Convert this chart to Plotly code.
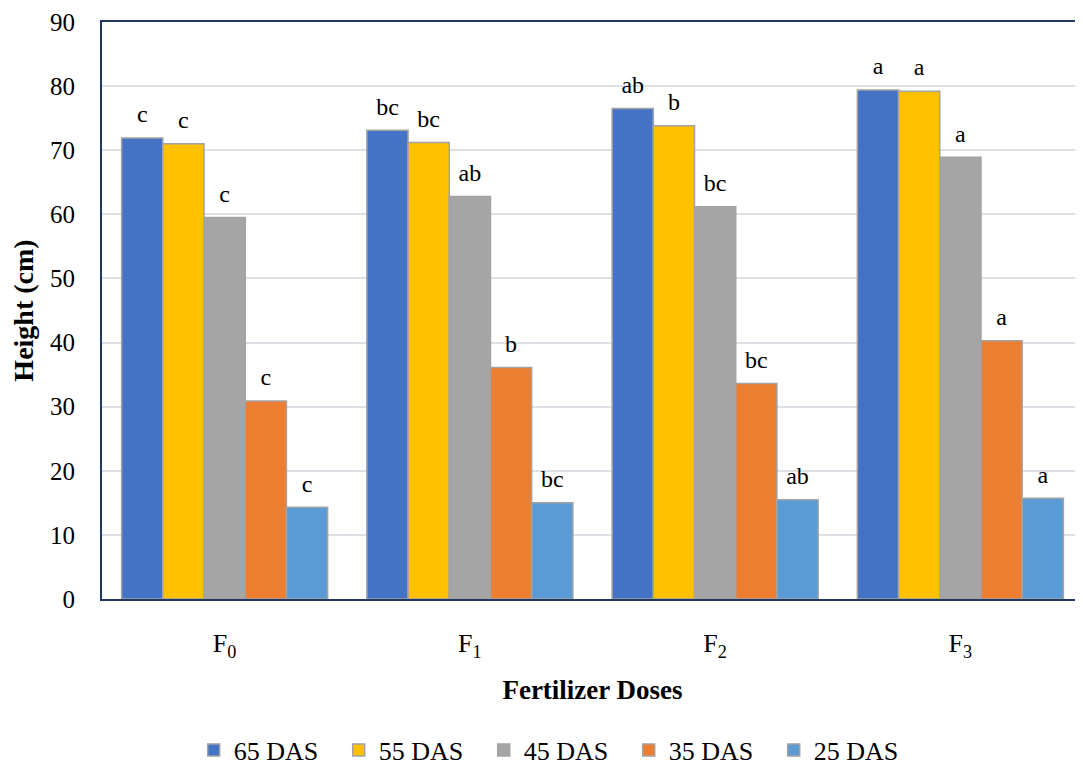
import plotly.graph_objects as go

categories = ["F<sub>0</sub>", "F<sub>1</sub>", "F<sub>2</sub>", "F<sub>3</sub>"]
series_names = ["65 DAS", "55 DAS", "45 DAS", "35 DAS", "25 DAS"]
das65 = [71.9, 73.1, 76.5, 79.4]
das55 = [71.0, 71.2, 73.8, 79.2]
das45 = [59.5, 62.8, 61.2, 68.9]
das35 = [30.9, 36.1, 33.6, 40.3]
das25 = [14.3, 15.0, 15.5, 15.7]
letters65 = ["c", "bc", "ab", "a"]
letters55 = ["c", "bc", "b", "a"]
letters45 = ["c", "ab", "bc", "a"]
letters35 = ["c", "b", "bc", "a"]
letters25 = ["c", "bc", "ab", "a"]
colors = ["#4472C4", "#FFC000", "#A5A5A5", "#ED7D31", "#5B9BD5"]
y_ticks = [0, 10, 20, 30, 40, 50, 60, 70, 80, 90]

values = [das65, das55, das45, das35, das25]
letters = [letters65, letters55, letters45, letters35, letters25]

FONT = "Times New Roman, Liberation Serif, DejaVu Serif, serif"
fig = go.Figure()
for i, name in enumerate(series_names):
    fig.add_trace(go.Bar(
        x=categories, y=values[i], name=name, offsetgroup=str(i),
        marker=dict(color=colors[i], line=dict(color="#A3A3A3", width=1.5)),
    ))
for i, name in enumerate(series_names):
    fig.add_trace(go.Scatter(
        x=categories, y=values[i], mode="markers+text", text=letters[i],
        textposition="top center", offsetgroup=str(i), showlegend=False,
        marker=dict(size=14, color="rgba(0,0,0,0)"),
        textfont=dict(family=FONT, size=24, color="#000000"),
        cliponaxis=False, hoverinfo="skip",
    ))

fig.update_layout(
    width=1075, height=758,
    margin=dict(l=94, r=0, t=14, b=167, autoexpand=False),
    paper_bgcolor="white", plot_bgcolor="white",
    barmode="group", bargap=0.16, bargroupgap=0,
    scattermode="group", scattergap=0.16,
    font=dict(family=FONT, color="#000000"),
    showlegend=True,
    legend=dict(
        orientation="h",
        x=0.463, y=-0.262, xanchor="center", yanchor="middle",
        font=dict(family=FONT, size=26, color="#000000"),
        entrywidth=100, entrywidthmode="pixels",
        traceorder="normal",
    ),
)
fig.update_xaxes(
    showline=True, linecolor="#1F3864", linewidth=2, mirror=True,
    showgrid=False, ticks="", ticklabelstandoff=20, automargin=False,
    tickfont=dict(family=FONT, size=26, color="#000000"),
    title=dict(text="<b>Fertilizer Doses</b>", standoff=19,
               font=dict(family=FONT, size=27, color="#000000")),
)
fig.update_yaxes(
    range=[0, 90], tickvals=y_ticks, automargin=False,
    showline=True, linecolor="#1F3864", linewidth=2, mirror=False,
    showgrid=True, gridcolor="#DDE1E6", gridwidth=2,
    zeroline=False, ticks="", ticklabelstandoff=20,
    tickfont=dict(family=FONT, size=25, color="#000000"),
    title=dict(text="<b>Height (cm)</b>", standoff=19,
               font=dict(family=FONT, size=28, color="#000000")),
)

fig.write_html("out.html")
